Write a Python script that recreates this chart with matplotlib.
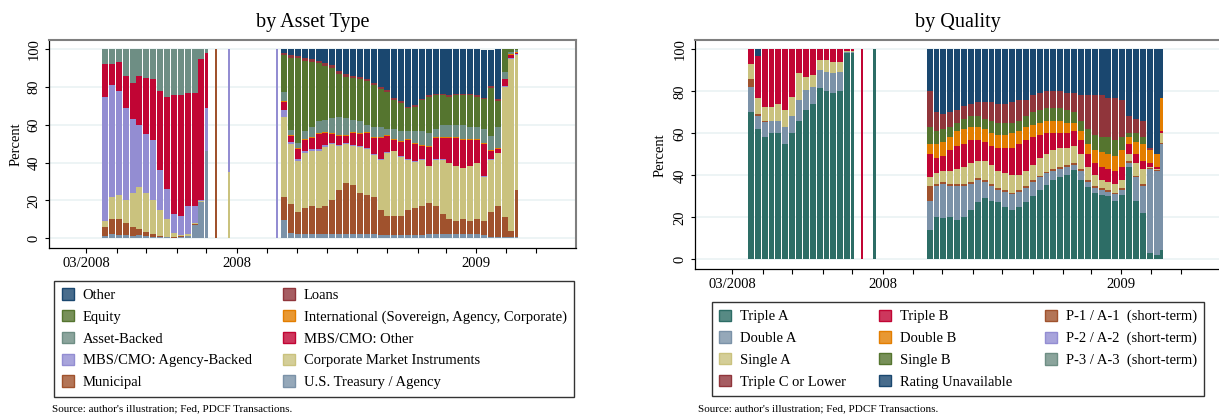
import matplotlib
matplotlib.use("Agg")
import matplotlib.pyplot as plt
import matplotlib.dates as mdates
from matplotlib.patches import Patch
from matplotlib.colors import to_rgba
from matplotlib.ticker import FixedLocator
import numpy as np
import pandas as pd

plt.rcParams['font.family'] = ['Liberation Serif', 'DejaVu Serif']

# ---------------- bar dates ----------------
weeks_1 = pd.date_range("2008-03-17", periods=16, freq="7D")      # weekly blocks, Mar-Jul 2008
single_days = pd.to_datetime(["2008-07-11", "2008-07-24", "2008-09-11"])
weeks_2 = pd.date_range("2008-09-15", periods=35, freq="7D")      # weekly blocks, Sep 2008 - May 2009

# ---------------- by Asset Type (percent shares, bottom -> top) ----------------
# each list: 16 weeks (2008 H1) | 3 single days | 35 weeks (Sep 2008 - May 2009)
treasury = [1, 2, 1.5, 1.5, 1, 1.5, 1, 0.5, 0.5, 0.5, 0.3, 0.5, 1, 7, 19, 46,
            0, 0, 0,
            9.7, 3, 2, 2, 2, 2, 2, 2, 2, 2, 2, 2, 2, 2, 1.5, 1.5, 1.5, 1.5, 1.5, 1.5, 1.5,
            2, 2, 2, 2, 2, 2, 2, 2, 1.5, 0.5, 0.5, 0.5, 0.5, 0.5]
municipal = [5, 8, 8.5, 6.5, 5, 3.5, 2.5, 1.5, 0.5, 0.3, 0.5, 0.5, 0.3, 0.3, 0.2, 0,
             100, 0, 0,
             12.3, 15, 12, 14, 15, 14, 15, 18, 23.6, 27, 26, 22, 21, 20, 13.5, 10.5, 10.5, 10.5,
             13.5, 14.5, 15.5, 16.5, 15, 11, 8, 7, 8, 7, 8, 7.5, 13.5, 16.5, 10.5, 3.5, 25.1]
corporate = [3, 12, 13, 12, 18, 22, 20.5, 18, 14, 9.2, 2.2, 0.5, 0.7, 0.7, 0.3, 0,
             0, 35, 0,
             42, 32, 27, 29, 29, 30, 31.5, 30, 23.4, 21, 21, 24.5, 24, 22, 26.5, 33, 34, 31,
             26.5, 24.5, 24.5, 19.5, 24.5, 28.5, 29.7, 29, 27, 29, 29.7, 23.6, 27.5, 28, 69, 91, 71.4]
mbs_agency = [66, 59, 55, 49, 39, 33, 31, 32, 21, 16, 10, 10.5, 15, 9, 0.5, 23,
              0, 65, 100,
              4, 1, 1, 1, 1, 1, 1, 0.5, 0.5, 0.5, 0.5, 0.5, 0.5, 0.5, 0.5, 0.5, 0.3, 0.3,
              0.3, 0.3, 0.3, 0.3, 0.3, 0.3, 0.3, 0.3, 0.3, 0.3, 0.3, 0.4, 0.3, 0.3, 0.3, 0.3, 0.3]
mbs_other = [17, 11, 15, 17, 19, 26, 30, 32, 42, 49, 63, 64, 60, 60, 75, 29,
             0, 0, 0,
             4, 3, 5, 6, 6, 8, 6, 4.5, 4.5, 3.5, 6, 6, 8, 8.5, 11, 8.5, 5.7, 7.7, 10.2, 9.2,
             7.2, 10.2, 11.2, 11.2, 13, 14.7, 14.7, 13.7, 12, 17, 4.2, 1.7, 3.7, 1.7, 0.7]
international = [0, 0, 0, 0, 0, 0, 0, 0, 0, 0, 0, 0, 0, 0, 0, 0,
                 0, 0, 0,
                 0.5, 0.5, 0.5, 0.5, 0.5, 0.5, 0.5, 0.5, 0.5, 0.5, 0.5, 0.5, 0.5, 0.5, 0.5, 0.5,
                 0.5, 0.5, 0.5, 0.5, 0.5, 0.5, 0.5, 0.5, 0.5, 0.5, 0.5, 0.5, 0.5, 0.5, 0.5, 0.5,
                 0.5, 0.5, 0.5]
asset_backed = [8, 8, 7, 14, 18, 14, 15, 16, 22, 25, 24, 24, 23, 23, 5, 2,
                0, 0, 0,
                5, 3, 3, 4.5, 5.5, 6.5, 6.6, 8, 9.9, 9, 6.6, 6.5, 4, 5.5, 5.5, 3.5, 5.5, 5.5,
                4.5, 6.5, 7.5, 6.5, 4.5, 6.5, 6.5, 6.5, 7.5, 6.5, 6.5, 7.5, 7.5, 11.5, 3.5, 1, 1]
equity = [0, 0, 0, 0, 0, 0, 0, 0, 0, 0, 0, 0, 0, 0, 0, 0,
          0, 0, 0,
          19.5, 38, 45, 37, 34.5, 30.6, 28.4, 26.5, 22.6, 22, 22.1, 22, 23, 22, 20, 19.6, 15,
          14.4, 11.8, 12.7, 16, 19.5, 17.8, 15.8, 15, 15.8, 15.8, 16.8, 16, 15.5, 25.5, 13.5,
          12, 1.5, 0.5]
loans = [0, 0, 0, 0, 0, 0, 0, 0, 0, 0, 0, 0, 0, 0, 0, 0,
         0, 0, 0,
         1, 1.5, 1, 1.5, 1.5, 1.4, 1.5, 1.5, 1.5, 1.5, 1.3, 1.5, 1.5, 1, 1, 0.9, 1, 1, 0.7,
         0.8, 0.8, 0.8, 0.7, 0.7, 0.7, 0.7, 0.7, 0.7, 0.7, 0.7, 1, 1, 0, 0, 0]
other = [0, 0, 0, 0, 0, 0, 0, 0, 0, 0, 0, 0, 0, 0, 0, 0,
         0, 0, 0,
         2, 3, 3.5, 4.5, 5, 6, 7.5, 8.5, 11.5, 13, 14, 14.5, 15.5, 18, 20, 21.5, 26, 27.6,
         30.5, 29.5, 26.2, 24.2, 23.5, 23.5, 24.3, 23.5, 23.5, 23.5, 24.3, 25.3, 19, 26.5, 0, 0, 0]

# ---------------- by Quality (percent shares, bottom -> top) ----------------
triple_a = [70, 62, 58, 60, 60, 55, 60, 66, 71, 74, 81.5, 80, 79, 80, 98.4, 98,
            0, 100, 0,
            14, 20, 19.5, 20, 18.7, 20, 23.5, 27.5, 29, 28, 27.5, 25, 23.5, 25, 27.5, 30, 33,
            35.4, 37.8, 39.4, 40, 42.5, 37.8, 34.6, 31.4, 30.6, 30, 28, 30.6, 44, 28, 22, 3, 2, 4.5]
double_a = [12, 6, 7.5, 6, 6, 8, 8, 10, 9.6, 8, 8.5, 9.4, 9.6, 9.4, 0.4, 0.8,
            0, 0, 0,
            14, 15, 16.5, 15, 16.3, 15, 12.5, 10.5, 8, 7, 5.5, 7, 7.5, 7, 6.5, 7, 6, 5.6, 4.2,
            3.6, 4, 2.5, 4.2, 2.4, 2.6, 2.4, 2, 3, 2.4, 2, 11, 13, 40, 40, 50.5]
p1_a1 = [4, 1, 0.5, 0, 0, 0, 0, 0, 0, 0, 0, 0, 0, 0, 0, 0,
         0, 0, 0,
         7, 0.8, 0.8, 0.8, 0.8, 0.8, 0.8, 0.8, 0.8, 0.8, 0.8, 0.8, 0.8, 0.8, 0.8, 0.8, 0.8,
         0.8, 0.8, 0.8, 0.8, 0.8, 0.8, 0.8, 0.8, 0.8, 0.8, 0.8, 0.8, 0.8, 0.8, 0.8, 0.5, 0.5, 0.5]
p2_a2 = [0, 0, 0, 0, 0, 0, 0, 0, 0, 0, 0, 0, 0, 0, 0, 0,
         0, 0, 0,
         0, 0, 0, 0, 0, 0, 0, 0, 0, 0, 0, 0, 0, 0, 0, 0, 0, 0, 0, 0, 0, 0, 0, 0, 0, 0, 0, 0,
         0, 0, 0, 0, 0, 0, 0]
p3_a3 = [0, 0, 0, 0, 0, 0, 0, 0, 0, 0, 0, 0, 0, 0, 0, 0,
         0, 0, 0,
         0, 0, 0, 0, 0, 0, 0, 0, 0, 0, 0, 0, 0, 0, 0, 0, 0, 0, 0, 0, 0, 0, 0, 0, 0, 0, 0, 0,
         0, 0, 0, 0, 0, 0, 0]
single_a = [7, 8, 6.7, 6.7, 8, 8, 9.5, 12.6, 6.4, 5.8, 5, 5.6, 5.4, 4.6, 0.6, 0.6,
            0, 0, 0,
            4, 5.2, 5.2, 6.2, 7.2, 8.2, 9.2, 8.2, 9.2, 9.2, 8.2, 8.2, 8.2, 7.2, 7.2, 7.2, 8.2,
            8.2, 9.2, 9.2, 8.2, 8.2, 7.2, 6.2, 5.2, 4.2, 4.2, 4.2, 4.2, 3.2, 6.2, 7.2, 0.5, 0.5, 4.5]
triple_b = [7, 20, 27.3, 27.3, 26, 29, 22.5, 11.4, 13, 12.2, 5, 5, 6, 6, 0.6, 0.6,
            100, 0, 0,
            11, 7, 7, 10, 11, 11, 11, 10, 9, 9, 11, 12, 13, 15, 15, 13, 11, 10, 8, 7, 7, 7, 7,
            6, 6, 6, 6, 6, 6, 5, 4, 4, 2, 1, 1]
double_b = [0, 0, 0, 0, 0, 0, 0, 0, 0, 0, 0, 0, 0, 0, 0, 0,
            0, 0, 0,
            5, 7, 7, 6, 7, 7, 6, 6, 6, 6, 6, 6, 7, 6, 6, 6, 6, 6, 6, 6, 5, 4, 4, 5, 6, 7, 7, 7,
            8, 3, 6, 8, 6, 6, 16]
single_b = [0, 0, 0, 0, 0, 0, 0, 0, 0, 0, 0, 0, 0, 0, 0, 0,
            0, 0, 0,
            8, 6, 6, 5, 4, 5, 5, 5, 5, 6, 6, 6, 5, 5, 5, 6, 6, 6, 6, 6, 6, 5, 5, 7, 7, 7, 8, 8,
            6, 2, 4, 3, 0, 0, 0]
triple_c = [0, 0, 0, 0, 0, 0, 0, 0, 0, 0, 0, 0, 0, 0, 0, 0,
            0, 0, 0,
            17, 9, 7, 7, 6, 6, 6, 7, 8, 9, 9, 9, 10, 10, 8, 8, 8, 8, 8, 8, 8, 9, 12, 16, 19, 20,
            19, 20, 18, 8, 7, 8, 1, 0, 0]
unavailable = [0, 3, 0, 0, 0, 0, 0, 0, 0, 0, 0, 0, 0, 0, 0, 0,
               0, 0, 0,
               20, 30, 31, 30, 29, 27, 26, 25, 25, 25, 26, 26, 25, 24, 24, 22, 21, 20, 20, 20, 21,
               21, 22, 22, 22, 22, 23, 23, 24, 32, 33, 34, 47, 50, 23]

x_ticks = pd.date_range("2008-03-01", "2009-06-01", freq="MS")
x_labels = {"2008-03-01": "03/2008", "2008-08-01": "2008", "2009-04-01": "2009"}
year_tick = pd.to_datetime(["2009-01-01"])

# ---------------- colours (Stata s2color) ----------------
C = dict(navy="#1a476f", maroon="#90353b", green="#55752f", orange="#e37e00",
         teal="#6e8e84", cranberry="#c10534", lavender="#938dd2", khaki="#cac27e",
         sienna="#a0522d", emidblue="#7b92a8", emerald="#2d6d66")

asset_series = [("U.S. Treasury / Agency", treasury, C["emidblue"]),
                ("Municipal", municipal, C["sienna"]),
                ("Corporate Market Instruments", corporate, C["khaki"]),
                ("MBS/CMO: Agency-Backed", mbs_agency, C["lavender"]),
                ("MBS/CMO: Other", mbs_other, C["cranberry"]),
                ("International (Sovereign, Agency, Corporate)", international, C["orange"]),
                ("Asset-Backed", asset_backed, C["teal"]),
                ("Equity", equity, C["green"]),
                ("Loans", loans, C["maroon"]),
                ("Other", other, C["navy"])]
asset_legend = ["Other", "Equity", "Asset-Backed", "MBS/CMO: Agency-Backed", "Municipal",
                "Loans", "International (Sovereign, Agency, Corporate)", "MBS/CMO: Other",
                "Corporate Market Instruments", "U.S. Treasury / Agency"]

quality_series = [("Triple A", triple_a, C["emerald"]),
                  ("Double A", double_a, C["emidblue"]),
                  ("P-1 / A-1  (short-term)", p1_a1, C["sienna"]),
                  ("P-2 / A-2  (short-term)", p2_a2, C["lavender"]),
                  ("P-3 / A-3  (short-term)", p3_a3, C["teal"]),
                  ("Single A", single_a, C["khaki"]),
                  ("Triple B", triple_b, C["cranberry"]),
                  ("Double B", double_b, C["orange"]),
                  ("Single B", single_b, C["green"]),
                  ("Triple C or Lower", triple_c, C["maroon"]),
                  ("Rating Unavailable", unavailable, C["navy"])]
quality_legend = ["Triple A", "Double A", "Single A", "Triple C or Lower",
                  "Triple B", "Double B", "Single B", "Rating Unavailable",
                  "P-1 / A-1  (short-term)", "P-2 / A-2  (short-term)", "P-3 / A-3  (short-term)"]

# ---------------- geometry ----------------
W, H = 1219, 415
fig = plt.figure(figsize=(W / 100, H / 100), dpi=100)


def fx(px):
    return px / W


def fy(py):
    return 1 - py / H


# bar lefts / widths (weekly blocks Mon..Sat, single days centred)
w1 = np.full(len(weeks_1), 6.0); w1[-1] = 3.0
w2 = np.full(len(weeks_2), 6.0); w2[-1] = 3.0
ws = np.full(len(single_days), 2.5)
lefts = np.concatenate([mdates.date2num(weeks_1.values),
                        mdates.date2num(single_days.values) - ws / 2,
                        mdates.date2num(weeks_2.values)])
widths = np.concatenate([w1, ws, w2])

xlim = (mdates.date2num(np.datetime64("2008-03-01")) - 37.6,
        mdates.date2num(np.datetime64("2008-03-01")) + 497.6)


def style_axes(ax, ylim):
    ax.set_xlim(*xlim)
    ax.set_ylim(*ylim)
    ax.set_axisbelow(True)
    ax.yaxis.grid(True, color="#eaf2f3", lw=1.2)
    ax.xaxis.grid(False)
    ax.set_yticks([0, 20, 40, 60, 80, 100])
    ax.set_yticklabels(["0", "20", "40", "60", "80", "100"], rotation=90, va="center")
    tk = mdates.date2num(x_ticks.values)
    ax.xaxis.set_major_locator(FixedLocator(tk))
    ax.set_xticklabels([x_labels.get(d.strftime("%Y-%m-%d"), "") for d in x_ticks])
    ax.xaxis.set_minor_locator(FixedLocator(mdates.date2num(year_tick.values)))
    ax.tick_params(axis="x", which="major", length=3.4, width=0.8, color="black",
                   labelsize=10.5, pad=3)
    ax.tick_params(axis="x", which="minor", length=6.6, width=0.8, color="black")
    ax.tick_params(axis="y", length=3.1, width=0.8, color="black", labelsize=10.5, pad=3)
    for s in ("left", "bottom"):
        ax.spines[s].set_color("black")
        ax.spines[s].set_linewidth(0.9)
    for s in ("top", "right"):
        ax.spines[s].set_color("#7f7f7f")
        ax.spines[s].set_linewidth(1.5)


def draw_stack(ax, series):
    bottom = np.zeros(len(lefts))
    for name, vals, col in series:
        v = np.asarray(vals, dtype=float)
        ax.bar(lefts, v, width=widths, bottom=bottom, align="edge", color=col,
               linewidth=0, label=name)
        bottom += v


def legend_handles(series, order):
    cmap = {n: c for n, _, c in series}
    return [Patch(facecolor=to_rgba(cmap[n], 0.8), edgecolor=cmap[n], linewidth=1.0)
            for n in order]


# left panel
axL = fig.add_axes([fx(49.3), fy(247.7), fx(576 - 49.3), (247.7 - 40) / H])
draw_stack(axL, asset_series)
style_axes(axL, (-5.0, 104.9))

# right panel
axR = fig.add_axes([fx(695.3), fy(269), fx(1221 - 695.3), (269 - 40) / H])
draw_stack(axR, quality_series)
style_axes(axR, (-4.6, 104.4))

# titles and labels
fig.text(fx(313), fy(26.7), "by Asset Type", ha="center", va="baseline", fontsize=14.5)
fig.text(fx(958), fy(26.7), "by Quality", ha="center", va="baseline", fontsize=14.5)
fig.text(fx(15.7), fy(144), "Percent", rotation=90, ha="center", va="center", fontsize=10.5)
fig.text(fx(660), fy(155), "Percent", rotation=90, ha="center", va="center", fontsize=10.5)

leg_kw = dict(loc="upper left", mode="expand", bbox_transform=fig.transFigure,
              fontsize=10.5, frameon=True, fancybox=False, framealpha=1,
              edgecolor="#333333", borderpad=0.5, labelspacing=0.55,
              handlelength=0.82, handleheight=0.82, handletextpad=0.62,
              borderaxespad=0.0)
lgL = fig.legend(legend_handles(asset_series, asset_legend), asset_legend, ncol=2,
                 bbox_to_anchor=(fx(54.3), fy(395), fx(574 - 54.3), (395 - 281) / H), **leg_kw)
lgL.get_frame().set_linewidth(1.0)
lgR = fig.legend(legend_handles(quality_series, quality_legend), quality_legend, ncol=3,
                 bbox_to_anchor=(fx(711.7), fy(395), fx(1204 - 711.7), (395 - 302.3) / H), **leg_kw)
lgR.get_frame().set_linewidth(1.0)

src = "Source: author's illustration; Fed, PDCF Transactions."
fig.text(fx(52.3), fy(408.3), src, ha="left", va="center", fontsize=8)
fig.text(fx(698.3), fy(408.3), src, ha="left", va="center", fontsize=8)

fig.savefig("out.png", dpi=100, facecolor="white")
